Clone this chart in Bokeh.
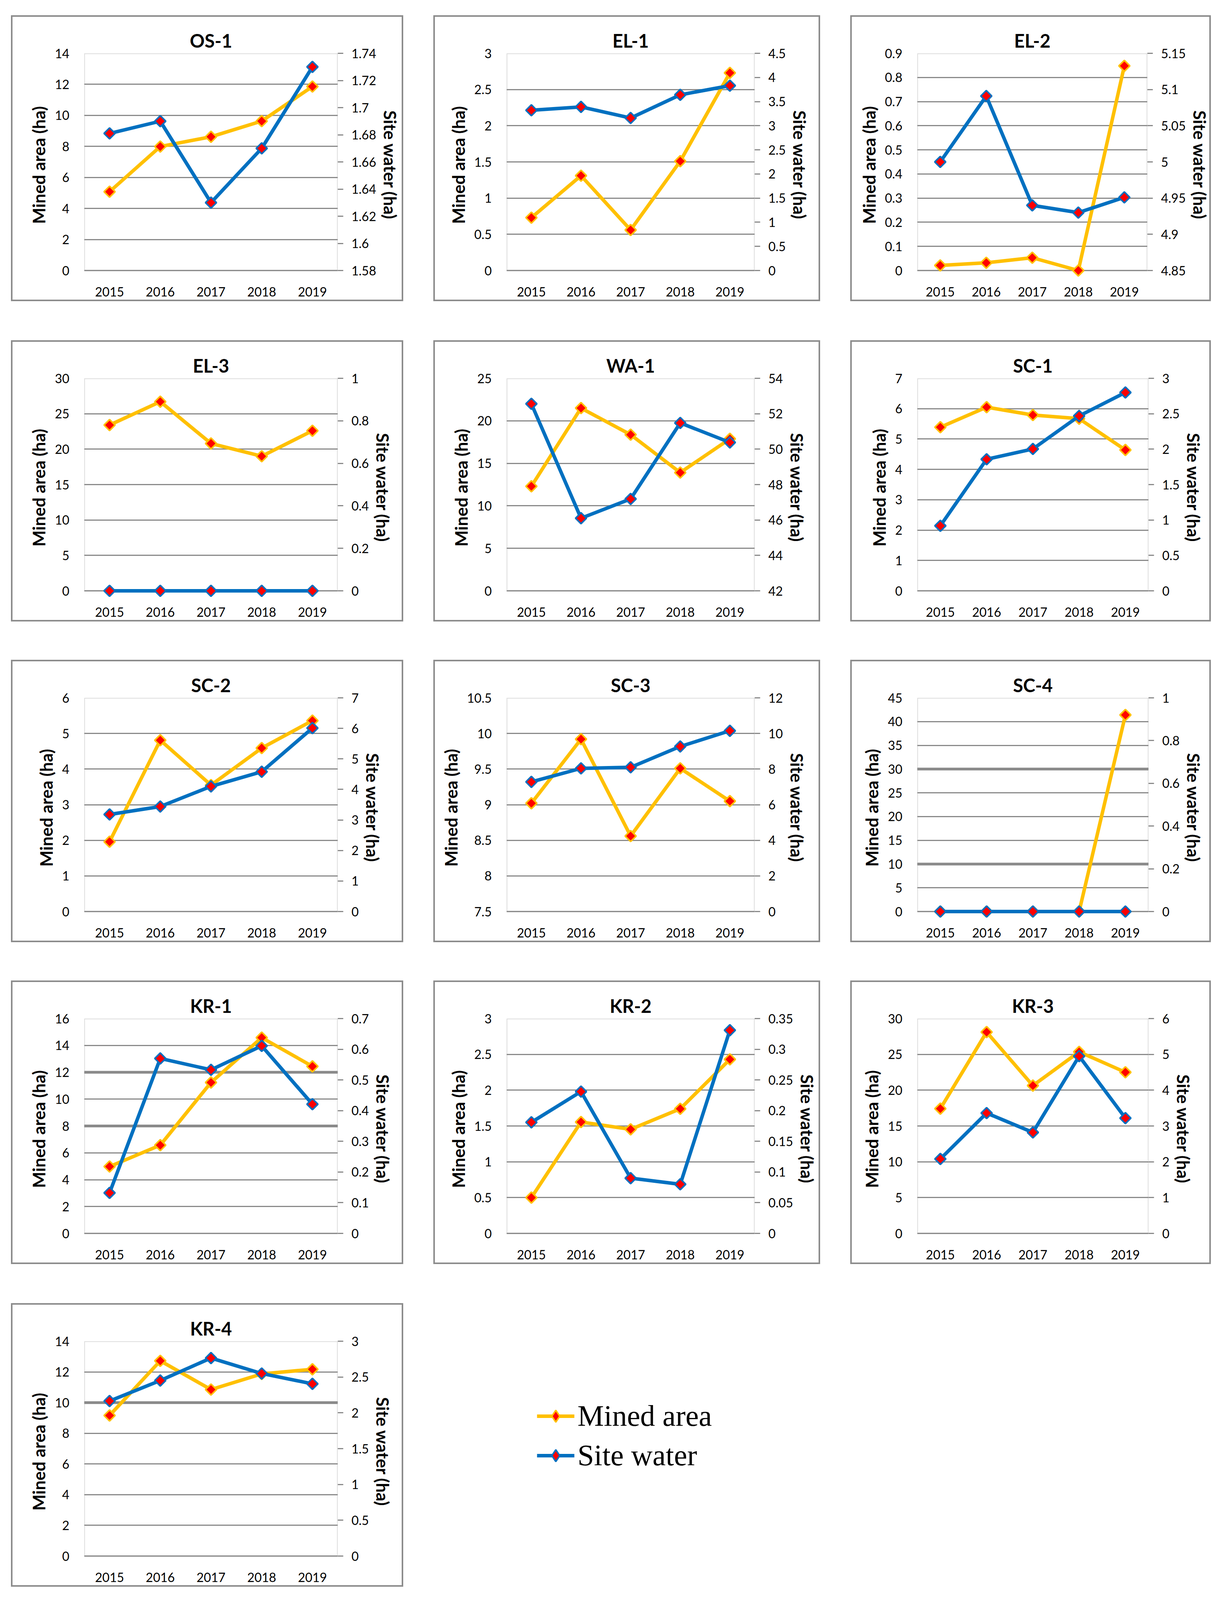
from bokeh.plotting import figure
from bokeh.models import (Range1d, LinearAxis, FixedTicker, FactorRange, Span, Legend,
                          LegendItem, ColumnDataSource, Spacer, BoxAnnotation)
from bokeh.layouts import row, column
from bokeh.embed import file_html
from bokeh.resources import INLINE

# ---------------- data ----------------
years = ["2015", "2016", "2017", "2018", "2019"]

os1_mined = [5.08, 7.99, 8.62, 9.63, 11.86]
os1_water = [1.681, 1.690, 1.630, 1.670, 1.730]
el1_mined = [0.73, 1.31, 0.56, 1.51, 2.73]
el1_water = [3.32, 3.39, 3.16, 3.64, 3.83]
el2_mined = [0.021, 0.032, 0.053, 0.0, 0.848]
el2_water = [5.000, 5.091, 4.940, 4.930, 4.951]
el3_mined = [23.4, 26.7, 20.8, 19.0, 22.6]
el3_water = [0, 0, 0, 0, 0]
wa1_mined = [12.3, 21.5, 18.37, 13.91, 17.88]
wa1_water = [52.56, 46.10, 47.19, 51.48, 50.38]
sc1_mined = [5.39, 6.05, 5.79, 5.67, 4.64]
sc1_water = [0.918, 1.857, 2.003, 2.469, 2.80]
sc2_mined = [1.96, 4.81, 3.55, 4.59, 5.36]
sc2_water = [3.18, 3.44, 4.10, 4.58, 6.01]
sc3_mined = [9.02, 9.92, 8.56, 9.51, 9.05]
sc3_water = [7.28, 8.04, 8.10, 9.27, 10.15]
sc4_mined = [0, 0, 0, 0, 41.4]
sc4_water = [0, 0, 0, 0, 0]
kr1_mined = [4.98, 6.57, 11.24, 14.58, 12.44]
kr1_water = [0.132, 0.570, 0.533, 0.611, 0.421]
kr2_mined = [0.50, 1.555, 1.453, 1.74, 2.43]
kr2_water = [0.181, 0.231, 0.090, 0.080, 0.331]
kr3_mined = [17.42, 28.11, 20.64, 25.35, 22.50]
kr3_water = [2.08, 3.36, 2.82, 4.95, 3.22]
kr4_mined = [9.16, 12.72, 10.85, 11.87, 12.17]
kr4_water = [2.165, 2.451, 2.765, 2.549, 2.405]

# axis scales: [low, high, step]
os1_left, os1_right = [0, 14, 2], [1.58, 1.74, 0.02]
el1_left, el1_right = [0, 3, 0.5], [0, 4.5, 0.5]
el2_left, el2_right = [0, 0.9, 0.1], [4.85, 5.15, 0.05]
el3_left, el3_right = [0, 30, 5], [0, 1, 0.2]
wa1_left, wa1_right = [0, 25, 5], [42, 54, 2]
sc1_left, sc1_right = [0, 7, 1], [0, 3, 0.5]
sc2_left, sc2_right = [0, 6, 1], [0, 7, 1]
sc3_left, sc3_right = [7.5, 10.5, 0.5], [0, 12, 2]
sc4_left, sc4_right = [0, 45, 5], [0, 1, 0.2]
kr1_left, kr1_right = [0, 16, 2], [0, 0.7, 0.1]
kr2_left, kr2_right = [0, 3, 0.5], [0, 0.35, 0.05]
kr3_left, kr3_right = [0, 30, 5], [0, 6, 1]
kr4_left, kr4_right = [0, 14, 2], [0, 3, 0.5]

series_names = ["Mined area", "Site water"]
left_title = "Mined area (ha)"
right_title = "Site water (ha)"

panels = [
    ("OS-1", os1_mined, os1_water, os1_left, os1_right, []),
    ("EL-1", el1_mined, el1_water, el1_left, el1_right, []),
    ("EL-2", el2_mined, el2_water, el2_left, el2_right, []),
    ("EL-3", el3_mined, el3_water, el3_left, el3_right, []),
    ("WA-1", wa1_mined, wa1_water, wa1_left, wa1_right, []),
    ("SC-1", sc1_mined, sc1_water, sc1_left, sc1_right, []),
    ("SC-2", sc2_mined, sc2_water, sc2_left, sc2_right, []),
    ("SC-3", sc3_mined, sc3_water, sc3_left, sc3_right, []),
    ("SC-4", sc4_mined, sc4_water, sc4_left, sc4_right, [10, 30]),
    ("KR-1", kr1_mined, kr1_water, kr1_left, kr1_right, [8, 12]),
    ("KR-2", kr2_mined, kr2_water, kr2_left, kr2_right, []),
    ("KR-3", kr3_mined, kr3_water, kr3_left, kr3_right, []),
    ("KR-4", kr4_mined, kr4_water, kr4_left, kr4_right, [10]),
]

# ---------------- style / layout ----------------
ORANGE = "#FFC000"
BLUE = "#0070C0"
RED = "#FF0000"
GRAY = "#8A8A8A"
FONT = "Lato"
TICK_FS = "32px"

VS = 0.958  # vertical fit factor (visible page height is a bit shorter)


def vs(v):
    return int(round(v * VS))


COL_W = [1004, 990, 923]
COL_LB = [187, 187, 171]
COL_RB = [168, 168, 160]
COL_GAP = 77
ROW_H = [vs(h) for h in [764, 752, 755, 758, 758]]
ROW_TOP = [8 + vs(t - 8) for t in [49, 917, 1771, 2628, 3490]]
FRAME_TOP = vs(101)
FRAME_BOTTOM = vs(82)
PAD_PX = 16


def ticks_of(spec):
    lo, hi, step = spec
    n = int(round((hi - lo) / step))
    return [round(lo + i * step, 6) for i in range(n + 1)]


def fmt(v):
    s = f"{v:.4f}".rstrip("0").rstrip(".")
    return "0" if s in ("-0", "") else s


def make_panel(name, mined, water, lspec, rspec, heavy, W, H, lb, rb):
    plot_h = H - FRAME_TOP - FRAME_BOTTOM
    llo, lhi, _ = lspec
    rlo, rhi, _ = rspec
    lpad = (lhi - llo) * PAD_PX / plot_h
    rpad = (rhi - rlo) * PAD_PX / plot_h
    p = figure(width=W, height=H, x_range=FactorRange(*years),
               y_range=Range1d(llo - lpad, lhi),
               output_backend="svg", toolbar_location=None,
               min_border_left=lb, min_border_right=rb,
               min_border_top=FRAME_TOP, min_border_bottom=FRAME_BOTTOM - PAD_PX,
               title=name, background_fill_color="white",
               border_fill_color=None, outline_line_color=None,
               styles={"box-shadow": "inset 0 0 0 4px #8c8c8c"})
    p.extra_y_ranges = {"right": Range1d(rlo - rpad, rhi)}

    p.title.text_font = FONT
    p.title.text_font_size = "47px"
    p.title.text_font_style = "bold"
    p.title.align = "center"
    p.title.text_color = "black"

    # x axis
    xa = p.xaxis[0]
    xa.major_tick_line_color = None
    xa.minor_tick_line_color = None
    xa.axis_line_color = None
    xa.major_label_text_font = FONT
    xa.major_label_text_font_size = TICK_FS
    xa.major_label_text_color = "black"
    xa.major_label_standoff = 36 - PAD_PX
    p.xgrid.grid_line_color = None

    # left axis
    lt = ticks_of(lspec)
    ya = p.yaxis[0]
    ya.ticker = FixedTicker(ticks=lt)
    ya.major_label_overrides = {t: fmt(t) for t in lt}
    ya.major_tick_line_color = None
    ya.minor_tick_line_color = None
    ya.axis_line_color = None
    ya.major_label_standoff = 32
    ya.major_label_text_font = FONT
    ya.major_label_text_font_size = TICK_FS
    ya.major_label_text_color = "black"
    ya.axis_label = left_title
    ya.axis_label_text_font = FONT
    ya.axis_label_text_font_size = "44px"
    ya.axis_label_text_font_style = "bold"
    ya.axis_label_text_color = "black"
    ya.axis_label_standoff = 12
    p.ygrid.grid_line_color = GRAY
    p.ygrid.grid_line_width = 3

    for v in heavy:
        p.add_layout(Span(location=v, dimension="width", line_color=GRAY,
                          line_width=7, level="underlay"))

    # right axis
    rt = ticks_of(rspec)
    ra = LinearAxis(y_range_name="right", ticker=FixedTicker(ticks=rt),
                    major_label_overrides={t: fmt(t) for t in rt})
    ra.major_tick_out = 14
    ra.major_tick_in = 0
    ra.major_tick_line_color = GRAY
    ra.major_tick_line_width = 3
    ra.minor_tick_line_color = None
    ra.axis_line_color = None
    ra.major_label_standoff = 21
    ra.major_label_text_font = FONT
    ra.major_label_text_font_size = TICK_FS
    ra.major_label_text_color = "black"
    ra.axis_label = right_title
    ra.axis_label_text_font = FONT
    ra.axis_label_text_font_size = "44px"
    ra.axis_label_text_font_style = "bold"
    ra.axis_label_text_color = "black"
    ra.axis_label_standoff = 7
    p.add_layout(ra, "right")

    # frame box (from axis minimum to maximum)
    p.add_layout(BoxAnnotation(bottom=llo, top=lhi, fill_color=None, fill_alpha=0,
                               line_color=GRAY, line_width=4, level="underlay"))

    src = ColumnDataSource(dict(year=years, mined=mined, water=water))
    p.line("year", "mined", source=src, line_color=ORANGE, line_width=9)
    p.scatter("year", "mined", source=src, marker="square", angle=0.785398,
              size=20, fill_color=RED, line_color=ORANGE, line_width=4)
    p.line("year", "water", source=src, y_range_name="right",
           line_color=BLUE, line_width=9)
    p.scatter("year", "water", source=src, y_range_name="right", marker="square",
              angle=0.785398, size=20, fill_color=RED, line_color=BLUE, line_width=4)
    return p


figs = []
for i, (name, m, w, ls, rs, hv) in enumerate(panels):
    c = i % 3
    r = i // 3
    figs.append(make_panel(name, m, w, ls, rs, hv, COL_W[c], ROW_H[r], COL_LB[c], COL_RB[c]))

# legend panel (renderers hidden; only their legend samples are shown)
lg = figure(width=COL_W[1], height=ROW_H[4], x_range=(0, 1), y_range=(0, 1),
            output_backend="svg", toolbar_location=None, min_border=0,
            x_axis_location=None, y_axis_location=None, outline_line_color=None,
            background_fill_color=None, border_fill_color=None)
lg.grid.visible = False
dummy = ColumnDataSource(dict(x=[0.5], y=[0.5]))
l1 = lg.line("x", "y", source=dummy, line_color=ORANGE, line_width=9, visible=False)
s1 = lg.scatter("x", "y", source=dummy, marker="diamond", size=20,
                fill_color=RED, line_color=ORANGE, line_width=4, visible=False)
l2 = lg.line("x", "y", source=dummy, line_color=BLUE, line_width=9, visible=False)
s2 = lg.scatter("x", "y", source=dummy, marker="diamond", size=20,
                fill_color=RED, line_color=BLUE, line_width=4, visible=False)
legend = Legend(items=[LegendItem(label=series_names[0], renderers=[l1, s1]),
                       LegendItem(label=series_names[1], renderers=[l2, s2])],
                location=(265, ROW_H[4] - 299 - 142 - 55), orientation="vertical",
                label_text_font="Liberation Serif", label_text_font_size="76px",
                label_text_color="black", glyph_width=96, glyph_height=76,
                label_height=70, label_standoff=8, spacing=14, padding=0, margin=0,
                border_line_color=None, background_fill_alpha=0)
lg.add_layout(legend)

rows = []
prev_bottom = 8
for r in range(5):
    top = ROW_TOP[r]
    rows.append(Spacer(width=10, height=top - prev_bottom))
    H = ROW_H[r]
    kids = [Spacer(width=28, height=H)]
    rf = figs[3 * r: 3 * r + 3]
    if r == 4:
        rf = rf + [lg]
    for j, f in enumerate(rf):
        if j > 0:
            kids.append(Spacer(width=COL_GAP, height=H))
        kids.append(f)
    rows.append(row(*kids))
    prev_bottom = top + H

page = column(*rows)
open("out.html", "w").write(file_html(page, INLINE))
